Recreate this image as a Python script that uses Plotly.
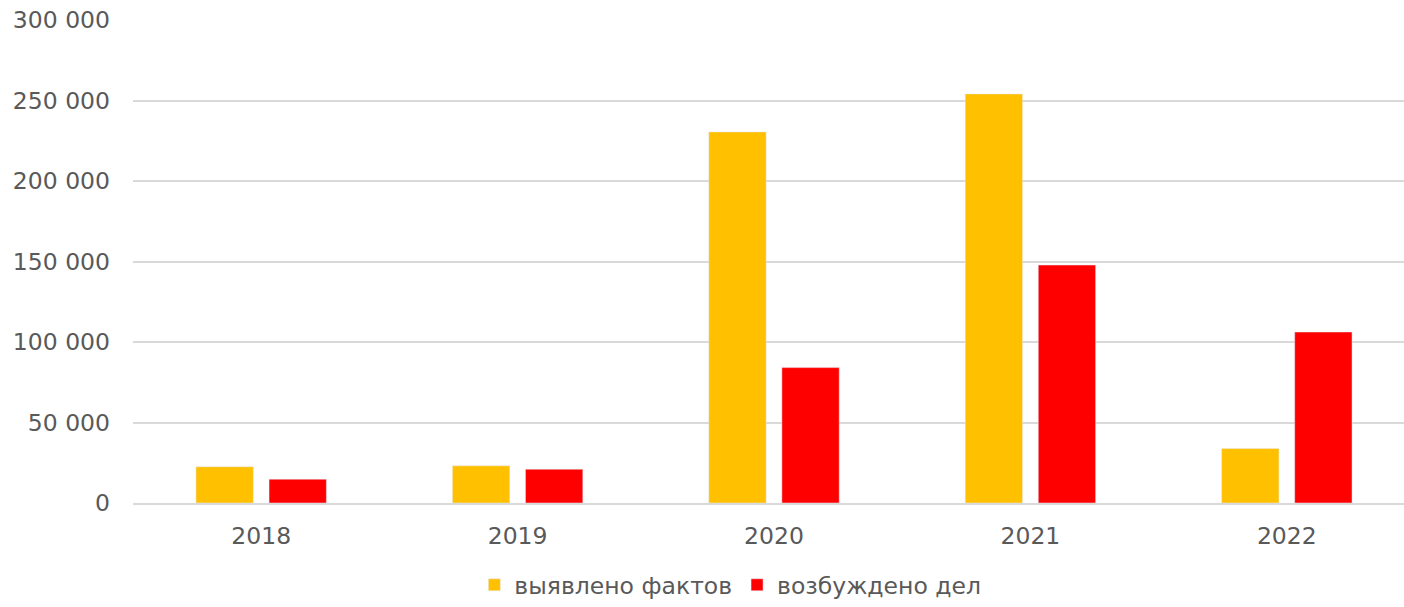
import plotly.graph_objects as go

years = ["2018", "2019", "2020", "2021", "2022"]
found = [22500, 23100, 230500, 254100, 33800]
cases = [14800, 21000, 84100, 147800, 106200]
series_names = ["выявлено фактов", "возбуждено дел"]
y_ticks = [0, 50000, 100000, 150000, 200000, 250000, 300000]

FONT = "DejaVu Sans"
GRAY = "#595959"

fig = go.Figure()
fig.add_trace(go.Bar(x=years, y=found, name=series_names[0], marker_color="#FFC000"))
fig.add_trace(go.Bar(x=years, y=cases, name=series_names[1], marker_color="#FF0000"))

fig.update_layout(
    width=1404, height=607,
    margin=dict(l=133, r=0, t=20, b=104, autoexpand=False),
    paper_bgcolor="white", plot_bgcolor="white",
    barmode="group", bargap=0.43, bargroupgap=0.215,
    separators=". ",
    font=dict(family=FONT, size=23.5, color=GRAY),
    showlegend=True,
    legend=dict(orientation="h", x=0.47, xanchor="center",
                yref="container", y=-0.008, yanchor="bottom",
                font=dict(family=FONT, size=23.5, color=GRAY), itemwidth=30),
)
fig.update_xaxes(type="category", range=[-0.5, 4.457], showgrid=False,
                 showline=True, linecolor="#D9D9D9", linewidth=2,
                 ticks="", ticklabelstandoff=11,
                 tickfont=dict(family=FONT, size=23.5, color=GRAY))
fig.update_yaxes(range=[0, 300000], tickvals=y_ticks, tickformat=",d",
                 showgrid=True, gridcolor="#D9D9D9", gridwidth=1.5,
                 zeroline=False, showline=False, ticks="", ticklabelstandoff=22,
                 tickfont=dict(family=FONT, size=23.5, color=GRAY))

fig.write_html("out.html")
